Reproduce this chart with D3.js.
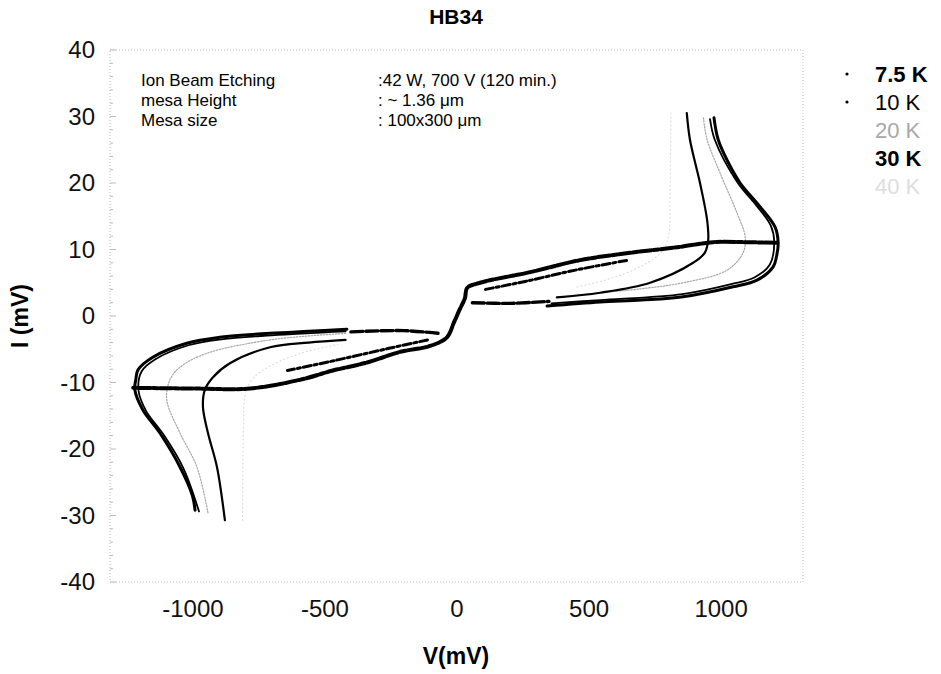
<!DOCTYPE html>
<html>
<head>
<meta charset="utf-8">
<script src="https://cdn.jsdelivr.net/npm/d3@7"></script>
<style>
    body { margin: 0; background: #fff; }
    svg text { font-family: "Liberation Sans", Arial, sans-serif; }
</style>
</head>
<body>
<div id="chart"></div>
<script>
// legend entries
const temps = ['7.5 K', '10 K', '20 K', '30 K', '40 K'];

// axis ticks
const xTicks = [-1000, -500, 0, 500, 1000];
const yTicks = [-40, -30, -20, -10, 0, 10, 20, 30, 40];

// sweeps, [V (mV), I (mV)]
const k75Pos = [[975, 29.8], [991, 26.5], [1030, 23], [1074, 20.0], [1150, 16.4], [1206, 13.4], [1218, 11.0], [1212, 9], [1199, 7.4], [1138, 5.4], [1047, 4.4], [858, 2.9], [700, 2.4], [544, 2.1], [343, 1.5]];
const k75Neg = [[-990, -29.2], [-1000, -27], [-1047, -22.7], [-1123, -17.6], [-1188, -14.1], [-1218, -11.1], [-1214, -9.5], [-1206, -8.1], [-1150, -6.2], [-1021, -4.1], [-896, -3.2], [-706, -2.6], [-560, -2.3], [-415, -2.0]];
const k10Pos = [[960, 29.6], [978, 26.5], [1062, 20.2], [1136, 16.6], [1190, 13.6], [1203, 11.2], [1186, 7.7], [1128, 5.8], [1040, 4.8], [855, 3.3], [545, 2.4], [360, 1.9]];
const k10Neg = [[-975, -29.4], [-1034, -22.9], [-1110, -17.8], [-1175, -14.3], [-1204, -11.2], [-1192, -8.3], [-1140, -6.5], [-1015, -4.4], [-890, -3.5], [-700, -2.9], [-420, -2.3]];
const k20Pos = [[935, 29.8], [949, 26.5], [998, 21.5], [1062, 15.5], [1093, 11.9], [1085, 9.5], [1025, 6.9], [858, 5.0], [700, 4.1], [544, 3.5], [400, 2.9]];
const k20Neg = [[-941, -29.6], [-983, -22.7], [-1047, -17.6], [-1097, -12.6], [-1085, -9.6], [-1047, -7.7], [-945, -5.6], [-706, -3.6], [-560, -3.0], [-415, -2.6]];
const k30Pos = [[872, 30.5], [884, 26.5], [922, 20.0], [949, 14.4], [953, 11.4], [940, 9.5], [896, 8.0], [733, 5.0], [544, 3.5], [380, 2.8]];
const k30Neg = [[-877, -30.7], [-907, -22.7], [-941, -17.6], [-960, -13.7], [-953, -11.1], [-922, -9.2], [-858, -7.1], [-706, -4.7], [-560, -4.0], [-420, -3.6]];
const k40Pos = [[812, 30.5], [810, 24], [808, 17], [805, 12.5], [780, 9.8], [700, 7.5], [580, 5.6], [450, 4.3]];
const k40Neg = [[-810, -30.7], [-809, -22.7], [-806, -16], [-802, -12.3], [-775, -9.6], [-700, -7.4], [-580, -5.5], [-450, -4.3]];

// return branch drawn by the marker series (dense dashed band)
const bandMain = [[1214, 11.0], [1100, 11.1], [972, 11.1], [847, 10.4], [657, 9.5], [468, 8.4], [279, 6.6], [89, 5.0], [40, 4.2], [32, 2.7], [10, 0.8], [-10, -1.0], [-36, -3.2], [-100, -4.5], [-214, -5.4], [-339, -7.0], [-468, -8.2], [-593, -9.6], [-782, -10.9], [-1000, -10.9], [-1224, -10.8]];
const streakPos = [[110, 4.0], [260, 5.2], [450, 6.9], [650, 8.4]];
const streakNeg = [[-110, -3.6], [-260, -4.9], [-450, -6.6], [-640, -8.2]];
const endsPos = [[60, 2.0], [200, 1.9], [350, 2.2]];
const endsNeg = [[-70, -2.6], [-200, -2.2], [-410, -2.4]];

const annoLabels = ['Ion Beam Etching', 'mesa Height', 'Mesa size'];
const annoValues = [':42 W,  700 V (120 min.)', ': ~ 1.36 \u03bcm', ': 100x300 \u03bcm'];


class IVVis {

    constructor(_parentElement) {
        this.parentElement = _parentElement;
        this.initVis();
    }

    initVis() {
        let vis = this;

        vis.width = 941;
        vis.height = 674;
        vis.frame = {left: 110, right: 803, top: 50, bottom: 582};

        vis.svg = d3.select("#" + vis.parentElement).append("svg")
            .attr("width", vis.width)
            .attr("height", vis.height);

        vis.x = d3.scaleLinear()
            .domain([-1312, 1312])
            .range([vis.frame.left, vis.frame.right]);

        vis.y = d3.scaleLinear()
            .domain([-40, 40])
            .range([vis.frame.bottom, vis.frame.top]);

        vis.colors = {
            '7.5 K': '#000',
            '10 K': '#000',
            '20 K': '#a8a8a8',
            '30 K': '#000',
            '40 K': '#dedede'
        };

        // plot frame, dotted and faint
        vis.svg.append("rect")
            .attr("x", vis.frame.left)
            .attr("y", vis.frame.top)
            .attr("width", vis.frame.right - vis.frame.left)
            .attr("height", vis.frame.bottom - vis.frame.top)
            .attr("fill", "none")
            .attr("stroke", "#b8b8b8")
            .attr("stroke-dasharray", "1,2");

        // minor ticks on the left edge
        vis.svg.append("g")
            .selectAll("line")
            .data(d3.range(-40, 41, 2))
            .enter().append("line")
            .attr("x1", vis.frame.left)
            .attr("x2", d => d % 10 === 0 ? vis.frame.left + 6 : vis.frame.left + 3)
            .attr("y1", d => vis.y(d))
            .attr("y2", d => vis.y(d))
            .attr("stroke", "#aaa")
            .attr("stroke-width", 0.8);

        vis.xAxis = d3.axisBottom(vis.x).tickValues(xTicks).tickSize(0).tickPadding(18)
            .tickFormat(d => String(d));
        vis.yAxis = d3.axisLeft(vis.y).tickValues(yTicks).tickSize(0).tickPadding(15)
            .tickFormat(d => String(d));

        vis.svg.append("g")
            .attr("class", "x-axis")
            .attr("transform", "translate(0," + vis.frame.bottom + ")")
            .call(vis.xAxis);
        vis.svg.append("g")
            .attr("class", "y-axis")
            .attr("transform", "translate(" + vis.frame.left + ",0)")
            .call(vis.yAxis);

        vis.svg.selectAll(".x-axis .domain, .y-axis .domain").remove();
        vis.svg.selectAll(".x-axis text, .y-axis text")
            .attr("font-size", 24)
            .attr("font-family", "Liberation Sans, Arial, sans-serif")
            .attr("fill", "#111");

        // titles
        vis.svg.append("text")
            .attr("x", 456).attr("y", 24)
            .attr("text-anchor", "middle")
            .attr("font-size", 21).attr("font-weight", "bold")
            .text("HB34");
        vis.svg.append("text")
            .attr("x", 456).attr("y", 664)
            .attr("text-anchor", "middle")
            .attr("font-size", 23).attr("font-weight", "bold")
            .text("V(mV)");
        vis.svg.append("text")
            .attr("transform", "translate(28,316) rotate(-90)")
            .attr("text-anchor", "middle")
            .attr("font-size", 23).attr("font-weight", "bold")
            .text("I (mV)");

        // annotation block
        annoLabels.forEach((t, i) => {
            vis.svg.append("text")
                .attr("x", 141).attr("y", 86 + i * 20)
                .attr("font-size", 17)
                .text(t);
            vis.svg.append("text")
                .attr("x", 378).attr("y", 86 + i * 20)
                .attr("font-size", 17)
                .text(annoValues[i]);
        });

        // legend
        let legend = vis.svg.append("g").attr("class", "legend");
        temps.forEach((t, i) => {
            let ly = 82 + i * 28;
            if (i < 2) {
                legend.append("circle")
                    .attr("cx", 847).attr("cy", ly - 8)
                    .attr("r", 1.6)
                    .attr("fill", "#000");
            }
            legend.append("text")
                .attr("x", 875).attr("y", ly)
                .attr("font-size", 22)
                .attr("font-weight", (i === 0 || i === 3) ? "bold" : "normal")
                .attr("fill", vis.colors[t])
                .text(t);
        });

        vis.line = d3.line()
            .x(d => vis.x(d[0]))
            .y(d => vis.y(d[1]))
            .curve(d3.curveCatmullRom.alpha(0.5));

        vis.updateVis();
    }

    updateVis() {
        let vis = this;

        let curves = [
            {key: '40 K', pts: k40Pos, w: 1.2, dash: "1,3"},
            {key: '40 K', pts: k40Neg, w: 1.2, dash: "1,3"},
            {key: '20 K', pts: k20Pos, w: 1.2, dash: "1.5,1.5"},
            {key: '20 K', pts: k20Neg, w: 1.2, dash: "1.5,1.5"},
            {key: '30 K', pts: k30Pos, w: 2.2, dash: null},
            {key: '30 K', pts: k30Neg, w: 2.2, dash: null},
            {key: '10 K', pts: k10Pos, w: 1.8, dash: null},
            {key: '10 K', pts: k10Neg, w: 1.8, dash: null},
            {key: '7.5 K', pts: k75Pos, w: 3, dash: null},
            {key: '7.5 K', pts: k75Neg, w: 3, dash: null},
            {key: '7.5 K', pts: bandMain, w: 4, dash: "12,2,5,2"},
            {key: '10 K', pts: streakPos, w: 3, dash: "8,3,3,3"},
            {key: '10 K', pts: streakNeg, w: 3, dash: "8,3,3,3"},
            {key: '7.5 K', pts: endsPos, w: 3.4, dash: "12,3"},
            {key: '7.5 K', pts: endsNeg, w: 3.4, dash: "12,3"}
        ];

        vis.svg.append("g")
            .attr("class", "curves")
            .selectAll("path")
            .data(curves)
            .enter().append("path")
            .attr("d", d => vis.line(d.pts))
            .attr("fill", "none")
            .attr("stroke", d => vis.colors[d.key])
            .attr("stroke-width", d => d.w)
            .attr("stroke-linecap", "round")
            .attr("stroke-dasharray", d => d.dash);
    }
}

new IVVis("chart");
</script>
</body>
</html>
